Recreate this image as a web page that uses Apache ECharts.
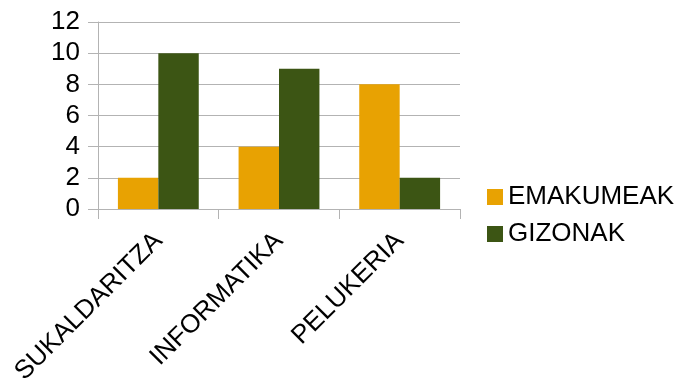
<!DOCTYPE html>
<html><head><meta charset="utf-8">
<script src="https://cdn.jsdelivr.net/npm/echarts@6/dist/echarts.min.js"></script>
<style>html,body{margin:0;padding:0;background:#fff}#c{width:680px;height:383px}</style>
</head><body><div id="c"></div>
<script>
const categories = ['SUKALDARITZA', 'INFORMATIKA', 'PELUKERIA'];
const emakumeak = [2, 4, 8];
const gizonak = [10, 9, 2];
const seriesNames = ['EMAKUMEAK', 'GIZONAK'];

const chart = echarts.init(document.getElementById('c'));
const font = 'Liberation Sans';
chart.setOption({
  animation: false,
  textStyle: { fontFamily: font },
  grid: { left: 98, right: 220, top: 22, bottom: 174, containLabel: false, outerBoundsMode: 'none' },
  legend: {
    orient: 'vertical', left: 482, top: 179,
    itemWidth: 16, itemHeight: 16, itemGap: 11, icon: 'rect',
    textStyle: { fontFamily: font, fontSize: 26, color: '#000' },
    data: seriesNames
  },
  xAxis: {
    type: 'category', data: categories,
    axisLine: { lineStyle: { color: '#b3b3b3', width: 1 } },
    axisTick: { show: true, length: 10, lineStyle: { color: '#b3b3b3', width: 1 } },
    axisLabel: { rotate: 45, margin: 28, fontSize: 26, color: '#000', fontFamily: font, interval: 0 }
  },
  yAxis: {
    type: 'value', min: 0, max: 12, interval: 2,
    axisLine: { show: true, lineStyle: { color: '#b3b3b3', width: 1 } },
    axisTick: { show: true, length: 10, lineStyle: { color: '#b3b3b3', width: 1 } },
    axisLabel: { fontSize: 26, color: '#000', fontFamily: font, margin: 18 },
    splitLine: { lineStyle: { color: '#b3b3b3', width: 1 } }
  },
  series: [
    { name: seriesNames[0], type: 'bar', data: emakumeak, barGap: '0%', barCategoryGap: '33%', itemStyle: { color: '#e8a202' } },
    { name: seriesNames[1], type: 'bar', data: gizonak, barGap: '0%', barCategoryGap: '33%', itemStyle: { color: '#3c5514' } }
  ]
});
</script></body></html>
